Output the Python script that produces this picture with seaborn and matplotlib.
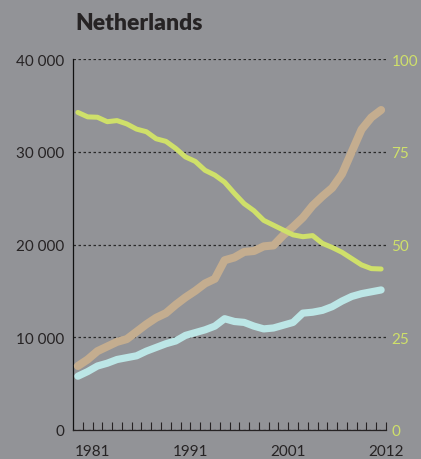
import matplotlib
matplotlib.use("Agg")
import matplotlib.pyplot as plt
import matplotlib.transforms as mtransforms
import seaborn as sns
import pandas as pd

years = list(range(1981, 2013))
# tan series (left axis)
series_tan = [6.9, 7.6, 8.5, 9.0, 9.5, 9.8, 10.6, 11.4, 12.1, 12.6, 13.5, 14.3,
              15.0, 15.8, 16.3, 18.3, 18.6, 19.2, 19.3, 19.8, 19.9, 21.0, 21.9,
              22.9, 24.2, 25.2, 26.1, 27.6, 30.0, 32.4, 33.7, 34.5]
# light blue series (left axis)
series_blue = [5.8, 6.3, 6.9, 7.2, 7.6, 7.8, 8.0, 8.5, 8.9, 9.3, 9.6, 10.2,
               10.5, 10.8, 11.2, 12.0, 11.7, 11.6, 11.2, 10.9, 11.0, 11.3, 11.6,
               12.6, 12.7, 12.9, 13.3, 13.9, 14.4, 14.7, 14.9, 15.1]
# green series (right axis, 0-100)
series_green = [85.6, 84.4, 84.3, 83.1, 83.4, 82.5, 81.1, 80.4, 78.5, 77.8, 75.9,
                73.6, 72.4, 70.0, 68.7, 66.8, 63.8, 61.0, 59.1, 56.5, 55.2, 53.9,
                52.6, 52.1, 52.4, 50.3, 49.2, 47.9, 46.2, 44.5, 43.5, 43.4]

left_ticks = [0, 10000, 20000, 30000, 40000]
left_labels = ["0", "10 000", "20 000", "30 000", "40 000"]
right_ticks = [0, 25, 50, 75, 100]
right_labels = ["0", "25", "50", "75", "100"]
x_label_years = [1981, 1991, 2001, 2012]
title = "Netherlands"

BG = "#929397"
TAN = "#c4ad8f"
BLUE = "#bce6e6"
GREEN = "#cfe06a"
DARK = "#262324"

sns.set_style("ticks")
plt.rcParams["font.family"] = ["Lato", "DejaVu Sans"]

df = pd.DataFrame({
    "year": years,
    "tan": [v * 1000 for v in series_tan],
    "blue": [v * 1000 for v in series_blue],
    "green": series_green,
})

fig = plt.figure(figsize=(4.21, 4.60), dpi=100, facecolor=BG)
ax = fig.add_axes([73 / 421, 29 / 460, 313 / 421, 371 / 460])
ax.set_facecolor(BG)

sns.lineplot(data=df, x="year", y="blue", ax=ax, color=BLUE, linewidth=5.2,
             solid_capstyle="round", solid_joinstyle="round", zorder=3)
sns.lineplot(data=df, x="year", y="tan", ax=ax, color=TAN, linewidth=5.8,
             solid_capstyle="round", solid_joinstyle="round", zorder=4)

ax.set_xlim(1980.5, 2012.5)
ax.set_ylim(0, 40000)
ax.set_yticks(left_ticks)
ax.set_yticklabels(left_labels)
ax.tick_params(axis="y", length=0, pad=6, labelsize=11, labelcolor=DARK)
ax.yaxis.grid(True, linestyle=(0, (2, 2)), linewidth=0.9, color="#2a2a2a")
ax.set_axisbelow(True)

ax.set_xticks(x_label_years)
ax.set_xticklabels([str(y) for y in x_label_years])
ax.set_xticks([y + 0.5 for y in years], minor=True)
ax.tick_params(axis="x", which="major", length=0, pad=10, labelsize=11, labelcolor=DARK)
ax.tick_params(axis="x", which="minor", direction="in", length=6, width=0.8, color=DARK)
for i, lab in enumerate(ax.get_xticklabels()):
    if i < len(x_label_years) - 1:
        lab.set_ha("left")
        off = mtransforms.ScaledTranslation(-3 / 100, 0, fig.dpi_scale_trans)
    else:
        lab.set_ha("center")
        off = mtransforms.ScaledTranslation(5 / 100, 0, fig.dpi_scale_trans)
    lab.set_transform(lab.get_transform() + off)

ax.set_xlabel("")
ax.set_ylabel("")
for s in ["top", "right"]:
    ax.spines[s].set_visible(False)
ax.spines["left"].set_color("#111111")
ax.spines["left"].set_linewidth(0.9)
ax.spines["bottom"].set_color(DARK)
ax.spines["bottom"].set_linewidth(0.9)

ax2 = ax.twinx()
sns.lineplot(data=df, x="year", y="green", ax=ax2, color=GREEN, linewidth=3.6,
             solid_capstyle="round", solid_joinstyle="round")
ax2.set_ylim(0, 100)
ax2.set_yticks(right_ticks)
ax2.set_yticklabels(right_labels)
ax2.tick_params(axis="y", length=0, pad=4, labelsize=11, labelcolor=GREEN)
ax2.set_ylabel("")
ax2.set_xlabel("")
for s in ["top", "right", "left", "bottom"]:
    ax2.spines[s].set_visible(False)

fig.text(75 / 421, 1 - 30 / 460, title, fontsize=16.5, fontweight="heavy",
         color=DARK, ha="left", va="baseline")

fig.savefig("out.png", dpi=100, facecolor=BG)
